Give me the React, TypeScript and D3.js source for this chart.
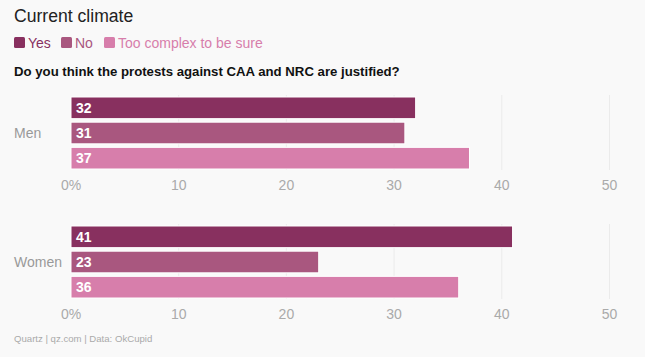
import React from "react";
import * as d3 from "d3";

const categories = ["Men", "Women"];
const seriesNames = ["Yes", "No", "Too complex to be sure"];
const seriesColors = ["#88305f", "#a9577f", "#d77eab"];
const menValues = [32, 31, 37];
const womenValues = [41, 23, 36];
const tickValues = [0, 10, 20, 30, 40, 50];

const W = 645;
const H = 357;
const FONT = "'Liberation Sans', Arial, sans-serif";

export default function App() {
  const x = d3.scaleLinear().domain([0, 50]).range([71, 609.5]);
  const groups = [menValues, womenValues];
  const groupTop = [97, 226];
  const band = d3.scaleBand<number>().domain([0, 1, 2]).range([0, 72]).paddingInner(0.14).paddingOuter(0);
  const legendX = [14, 61, 104];

  return (
    <svg width={W} height={H} style={{ position: "absolute", left: 0, top: 0, background: "#f9f9f9" }}>
      <rect x={0} y={0} width={W} height={H} fill="#f9f9f9" />
      <text x={14} y={22} fontFamily={FONT} fontSize={17.6} fill="#222">Current climate</text>
      {seriesNames.map((s, i) => (
        <g key={s}>
          <rect x={legendX[i]} y={37} width={11} height={11} rx={1.5} fill={seriesColors[i]} />
          <text x={legendX[i] + 14} y={48} fontFamily={FONT} fontSize={14} fill={seriesColors[i]}>{s}</text>
        </g>
      ))}
      <text x={14} y={76} fontFamily={FONT} fontSize={13.2} fontWeight="bold" fill="#111">
        Do you think the protests against CAA and NRC are justified?
      </text>
      {groups.map((vals, gi) => {
        const top = groupTop[gi];
        return (
          <g key={gi}>
            {tickValues.filter((t) => t > 0).map((t) => (
              <line key={t} x1={x(t)} x2={x(t)} y1={top - 2} y2={top + 73} stroke="#ebebeb" strokeWidth={1} />
            ))}
            {vals.map((v, i) => (
              <g key={i}>
                <rect
                  x={x(0)}
                  y={top + (band(i) as number)}
                  width={x(v) - x(0)}
                  height={band.bandwidth()}
                  fill={seriesColors[i]}
                  stroke="#ffffff"
                  strokeWidth={1}
                />
                <text
                  x={x(0) + 5}
                  y={top + (band(i) as number) + band.bandwidth() / 2 + 5}
                  fontFamily={FONT}
                  fontSize={14}
                  fontWeight="bold"
                  fill="#fff"
                >
                  {v}
                </text>
              </g>
            ))}
            <text x={14} y={top + 36 + 5} fontFamily={FONT} fontSize={14} fill="#999">
              {categories[gi]}
            </text>
            {tickValues.map((t) => (
              <text
                key={t}
                x={x(t)}
                y={top + 93}
                textAnchor="middle"
                fontFamily={FONT}
                fontSize={14}
                fill="#aaa"
              >
                {t === 0 ? "0%" : t}
              </text>
            ))}
          </g>
        );
      })}
      <text x={14} y={342} fontFamily={FONT} fontSize={9.6} fill="#aaa">Quartz | qz.com | Data: OkCupid</text>
    </svg>
  );
}
